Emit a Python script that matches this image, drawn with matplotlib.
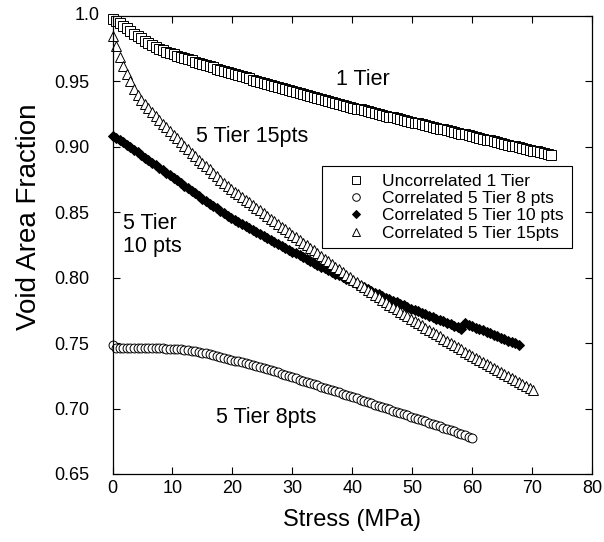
import matplotlib
matplotlib.use('Agg')
import matplotlib.pyplot as plt
from matplotlib.transforms import blended_transform_factory

# ---------------- data ----------------
stress = [0.0, 0.6, 1.2, 1.8, 2.4, 3.0, 3.6, 4.2, 4.8, 5.4,
          6.0, 6.6, 7.2, 7.8, 8.4, 9.0, 9.6, 10.2, 10.8, 11.4,
          12.0, 12.6, 13.2, 13.8, 14.4, 15.0, 15.6, 16.2, 16.8, 17.4,
          18.0, 18.6, 19.2, 19.8, 20.4, 21.0, 21.6, 22.2, 22.8, 23.4,
          24.0, 24.6, 25.2, 25.8, 26.4, 27.0, 27.6, 28.2, 28.8, 29.4,
          30.0, 30.6, 31.2, 31.8, 32.4, 33.0, 33.6, 34.2, 34.8, 35.4,
          36.0, 36.6, 37.2, 37.8, 38.4, 39.0, 39.6, 40.2, 40.8, 41.4,
          42.0, 42.6, 43.2, 43.8, 44.4, 45.0, 45.6, 46.2, 46.8, 47.4,
          48.0, 48.6, 49.2, 49.8, 50.4, 51.0, 51.6, 52.2, 52.8, 53.4,
          54.0, 54.6, 55.2, 55.8, 56.4, 57.0, 57.6, 58.2, 58.8, 59.4,
          60.0, 60.6, 61.2, 61.8, 62.4, 63.0, 63.6, 64.2, 64.8, 65.4,
          66.0, 66.6, 67.2, 67.8, 68.4, 69.0, 69.6, 70.2, 70.8, 71.4,
          72.0, 72.6, 73.2]

uncorrelated_1_tier = [
    0.9980, 0.9962, 0.9944, 0.9926, 0.9905, 0.9885, 0.9866, 0.9847, 0.9829, 0.9811,
    0.9794, 0.9778, 0.9763, 0.9749, 0.9737, 0.9725, 0.9715, 0.9706, 0.9697, 0.9688,
    0.9679, 0.9670, 0.9661, 0.9652, 0.9643, 0.9634, 0.9625, 0.9616, 0.9607, 0.9598,
    0.9590, 0.9581, 0.9573, 0.9565, 0.9557, 0.9548, 0.9540, 0.9531, 0.9523, 0.9514,
    0.9506, 0.9498, 0.9490, 0.9482, 0.9474, 0.9466, 0.9458, 0.9450, 0.9442, 0.9434,
    0.9426, 0.9418, 0.9410, 0.9402, 0.9395, 0.9387, 0.9380, 0.9372, 0.9365, 0.9357,
    0.9350, 0.9343, 0.9335, 0.9328, 0.9321, 0.9314, 0.9307, 0.9300, 0.9293, 0.9286,
    0.9279, 0.9272, 0.9265, 0.9258, 0.9251, 0.9245, 0.9238, 0.9231, 0.9225, 0.9218,
    0.9212, 0.9205, 0.9199, 0.9192, 0.9186, 0.9179, 0.9173, 0.9166, 0.9160, 0.9153,
    0.9147, 0.9140, 0.9134, 0.9127, 0.9121, 0.9114, 0.9108, 0.9101, 0.9095, 0.9088,
    0.9082, 0.9075, 0.9069, 0.9062, 0.9056, 0.9049, 0.9043, 0.9036, 0.9030, 0.9023,
    0.9017, 0.9010, 0.9004, 0.8997, 0.8991, 0.8984, 0.8978, 0.8971, 0.8965, 0.8958,
    0.8952, 0.8945, 0.8939]

correlated_5_tier_8pts = [
    0.7485, 0.7466, 0.7462, 0.7461, 0.7461, 0.7461, 0.7461, 0.7461, 0.7461, 0.7461,
    0.7461, 0.7461, 0.7460, 0.7460, 0.7460, 0.7459, 0.7458, 0.7457, 0.7455, 0.7453,
    0.7451, 0.7447, 0.7443, 0.7438, 0.7433, 0.7428, 0.7422, 0.7416, 0.7410, 0.7403,
    0.7396, 0.7389, 0.7381, 0.7374, 0.7367, 0.7360, 0.7353, 0.7346, 0.7339, 0.7332,
    0.7325, 0.7317, 0.7310, 0.7302, 0.7294, 0.7286, 0.7277, 0.7268, 0.7259, 0.7249,
    0.7240, 0.7231, 0.7222, 0.7213, 0.7204, 0.7195, 0.7186, 0.7177, 0.7168, 0.7159,
    0.7150, 0.7141, 0.7132, 0.7123, 0.7114, 0.7105, 0.7096, 0.7087, 0.7077, 0.7068,
    0.7058, 0.7049, 0.7039, 0.7030, 0.7020, 0.7011, 0.7002, 0.6993, 0.6984, 0.6975,
    0.6966, 0.6957, 0.6948, 0.6939, 0.6930, 0.6921, 0.6911, 0.6902, 0.6893, 0.6883,
    0.6874, 0.6864, 0.6855, 0.6845, 0.6835, 0.6825, 0.6815, 0.6805, 0.6796, 0.6786,
    0.6776]

correlated_5_tier_10pts = [
    0.9080, 0.9065, 0.9050, 0.9034, 0.9017, 0.8997, 0.8977, 0.8957, 0.8937, 0.8917,
    0.8898, 0.8879, 0.8860, 0.8840, 0.8821, 0.8802, 0.8783, 0.8763, 0.8744, 0.8724,
    0.8704, 0.8684, 0.8665, 0.8645, 0.8625, 0.8605, 0.8586, 0.8567, 0.8548, 0.8530,
    0.8511, 0.8493, 0.8475, 0.8457, 0.8440, 0.8424, 0.8408, 0.8393, 0.8377, 0.8362,
    0.8346, 0.8331, 0.8315, 0.8300, 0.8286, 0.8272, 0.8257, 0.8243, 0.8229, 0.8214,
    0.8200, 0.8186, 0.8171, 0.8157, 0.8142, 0.8128, 0.8114, 0.8099, 0.8085, 0.8071,
    0.8058, 0.8045, 0.8032, 0.8019, 0.8006, 0.7993, 0.7979, 0.7966, 0.7952, 0.7939,
    0.7926, 0.7913, 0.7900, 0.7886, 0.7873, 0.7860, 0.7848, 0.7836, 0.7824, 0.7812,
    0.7800, 0.7788, 0.7776, 0.7764, 0.7753, 0.7742, 0.7731, 0.7720, 0.7709, 0.7698,
    0.7688, 0.7677, 0.7666, 0.7655, 0.7643, 0.7632, 0.7620, 0.7609, 0.7652, 0.7641,
    0.7630, 0.7619, 0.7608, 0.7597, 0.7586, 0.7575, 0.7564, 0.7553, 0.7542, 0.7531,
    0.7520, 0.7509, 0.7498, 0.7487]

correlated_5_tier_15pts = [
    0.9850, 0.9770, 0.9690, 0.9620, 0.9560, 0.9500, 0.9440, 0.9395, 0.9360, 0.9328,
    0.9295, 0.9265, 0.9235, 0.9205, 0.9176, 0.9148, 0.9119, 0.9091, 0.9064, 0.9036,
    0.9008, 0.8982, 0.8955, 0.8929, 0.8903, 0.8877, 0.8852, 0.8827, 0.8801, 0.8776,
    0.8750, 0.8726, 0.8702, 0.8678, 0.8656, 0.8636, 0.8616, 0.8595, 0.8575, 0.8554,
    0.8534, 0.8514, 0.8493, 0.8473, 0.8452, 0.8432, 0.8412, 0.8391, 0.8371, 0.8350,
    0.8330, 0.8310, 0.8289, 0.8269, 0.8248, 0.8228, 0.8208, 0.8187, 0.8167, 0.8146,
    0.8126, 0.8106, 0.8085, 0.8065, 0.8044, 0.8024, 0.8004, 0.7984, 0.7964, 0.7945,
    0.7926, 0.7907, 0.7888, 0.7869, 0.7850, 0.7831, 0.7813, 0.7795, 0.7777, 0.7759,
    0.7741, 0.7723, 0.7705, 0.7687, 0.7669, 0.7652, 0.7635, 0.7618, 0.7601, 0.7584,
    0.7567, 0.7551, 0.7534, 0.7518, 0.7501, 0.7485, 0.7468, 0.7452, 0.7435, 0.7419,
    0.7402, 0.7387, 0.7371, 0.7356, 0.7340, 0.7325, 0.7309, 0.7294, 0.7278, 0.7263,
    0.7247, 0.7232, 0.7216, 0.7201, 0.7185, 0.7170, 0.7155, 0.7140]

series_labels = ['Uncorrelated 1 Tier', 'Correlated 5 Tier 8 pts',
                 'Correlated 5 Tier 10 pts', 'Correlated 5 Tier 15pts']

x_ticks = [0, 10, 20, 30, 40, 50, 60, 70, 80]
x_tick_labels = ['0', '10', '20', '30', '40', '50', '60', '70', '80']
y_ticks = [0.65, 0.70, 0.75, 0.80, 0.85, 0.90, 0.95, 1.0]
y_tick_labels = ['0.65', '0.70', '0.75', '0.80', '0.85', '0.90', '0.95', '1.0']

# ---------------- figure ----------------
plt.rcParams['font.family'] = ['Liberation Sans', 'DejaVu Sans']

W, H = 604, 542
fig = plt.figure(figsize=(W / 100, H / 100), dpi=100)
ax_l, ax_r, ax_t, ax_b = 112.5, 592.0, 16.0, 474.0
ax = fig.add_axes([ax_l / W, 1 - ax_b / H, (ax_r - ax_l) / W, (ax_b - ax_t) / H])

common = dict(ls='none', mec='black', mew=0.7, clip_on=False)
ax.plot(stress[:len(uncorrelated_1_tier)], uncorrelated_1_tier, marker='s', ms=6.5,
        mfc='white', label=series_labels[0], **common)
ax.plot(stress[:len(correlated_5_tier_8pts)], correlated_5_tier_8pts, marker='o', ms=6.4,
        mfc='white', label=series_labels[1], **common)
ax.plot(stress[:len(correlated_5_tier_10pts)], correlated_5_tier_10pts, marker='D', ms=5.2,
        mfc='black', label=series_labels[2], **common)
ax.plot(stress[:len(correlated_5_tier_15pts)], correlated_5_tier_15pts, marker='^', ms=6.8,
        mfc='white', label=series_labels[3], **common)

ax.set_xlim(0, 80)
ax.set_ylim(0.65, 1.0)
ax.set_xticks(x_ticks)
ax.set_xticklabels(x_tick_labels)
ax.set_yticks(y_ticks)
ax.set_yticklabels(y_tick_labels[:-1] + [''])
ax.tick_params(direction='in', length=5, width=0.8, top=True, right=True,
               labelsize=13)
ax.tick_params(axis='x', pad=4.5)
ax.tick_params(axis='y', pad=16.5)
for s in ax.spines.values():
    s.set_linewidth(0.9)

# the top y tick label sits further right in the reference
trans = blended_transform_factory(ax.transAxes, ax.transData)
ax.text(-12.5 / (ax_r - ax_l), y_ticks[-1], y_tick_labels[-1], transform=trans,
        ha='right', va='center', fontsize=13)

ax.set_xlabel('Stress (MPa)', fontsize=17)
ax.set_ylabel('Void Area Fraction', fontsize=20)
ax.xaxis.set_label_coords(0.5, -0.0775)
ax.yaxis.set_label_coords(-0.147, 0.562)

# annotations
ann_fs = 15.5
ax.text(37.3, 0.9469, '1 Tier', fontsize=ann_fs, ha='left', va='baseline')
ax.text(13.9, 0.9037, '5 Tier 15pts', fontsize=ann_fs, ha='left', va='baseline')
ax.text(1.7, 0.8375, '5 Tier', fontsize=ann_fs, ha='left', va='baseline')
ax.text(1.7, 0.8195, '10 pts', fontsize=ann_fs, ha='left', va='baseline')
ax.text(17.2, 0.6890, '5 Tier 8pts', fontsize=ann_fs, ha='left', va='baseline')

leg = ax.legend(loc='upper left', bbox_to_anchor=(321.7 / W, 1 - 166 / H),
                bbox_transform=fig.transFigure, borderaxespad=0, numpoints=1,
                fontsize=12.5, handlelength=3.0, handletextpad=0.05,
                borderpad=0.45, labelspacing=0.12, fancybox=False,
                framealpha=1, edgecolor='black', markerscale=0.85)
leg.get_frame().set_linewidth(0.8)

fig.savefig('out.png', dpi=100)
